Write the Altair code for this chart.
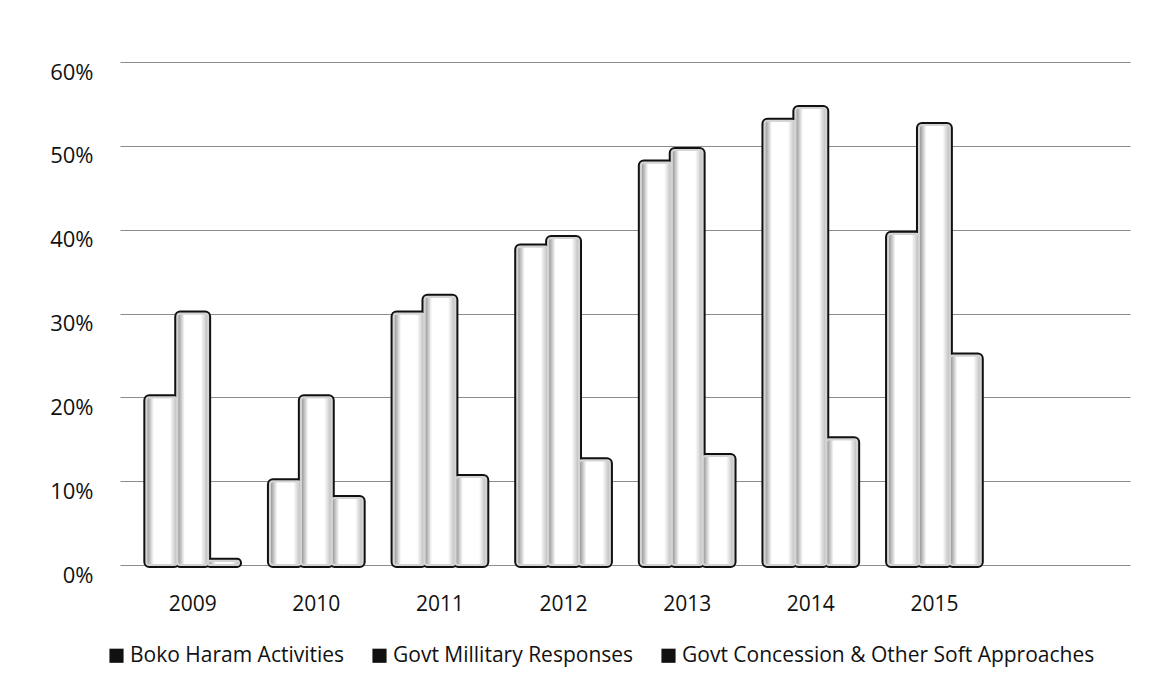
import altair as alt
import pandas as pd

years = ["2009", "2010", "2011", "2012", "2013", "2014", "2015"]
series = [
    "Boko Haram Activities",
    "Govt Millitary Responses",
    "Govt Concession & Other Soft Approaches",
]
boko_haram = [20, 10, 30, 38, 48, 53, 39.5]
military = [30, 20, 32, 39, 49.5, 54.5, 52.5]
concession = [0.5, 8, 10.5, 12.5, 13, 15, 25]
y_ticks = [0, 0.1, 0.2, 0.3, 0.4, 0.5, 0.6]

rows = []
for i, yr in enumerate(years):
    for name, vals in zip(series, [boko_haram, military, concession]):
        rows.append({"year": yr, "series": name, "share": vals[i] / 100})
df = pd.DataFrame(rows)

FONT = "Open Sans"
INK = "#111111"

x_enc = alt.X(
    "year:N",
    sort=years,
    scale=alt.Scale(paddingInner=0.25, paddingOuter=0.71, align=0.15),
    axis=alt.Axis(
        title=None, labelAngle=0, domain=False, ticks=False,
        labelPadding=28, labelFontSize=21, labelFont=FONT, labelColor=INK,
    ),
)
y_enc = alt.Y(
    "share:Q",
    scale=alt.Scale(domain=[0, 0.6], nice=False),
    axis=alt.Axis(
        title=None, format=".0%", values=y_ticks, domain=False, ticks=False,
        labelPadding=27, labelFontSize=22, labelFont=FONT, labelColor=INK,
        labelOffset=10, gridColor="#8c8c8c", gridWidth=1.2,
    ),
)
off_enc = alt.XOffset("series:N", sort=series, scale=alt.Scale(paddingInner=0, paddingOuter=0))

base = alt.Chart(df)

# dark silhouette around each group of columns
outline = base.mark_bar(
    fill="#ffffff", stroke="#111", strokeWidth=6, cornerRadius=3
).encode(x=x_enc, y=y_enc, xOffset=off_enc)

# shaded white faces drawn over the inner part of the outline
shade = alt.Gradient(
    gradient="linear", x1=0, x2=1, y1=0, y2=0,
    stops=[
        alt.GradientStop(color="#8a8a8a", offset=0),
        alt.GradientStop(color="#ffffff", offset=0.24),
        alt.GradientStop(color="#ffffff", offset=0.76),
        alt.GradientStop(color="#b8b8b8", offset=1),
    ],
)
faces = base.mark_bar(
    fill=shade, stroke="#d4d4d4", strokeWidth=2, cornerRadius=3
).encode(x=x_enc, y=y_enc, xOffset=off_enc)

# hidden points that carry the legend with black square keys
legend_keys = base.mark_square(opacity=0, size=1).encode(
    x=x_enc,
    y=alt.Y("share:Q", scale=alt.Scale(domain=[0, 0.6], nice=False)),
    color=alt.Color(
        "series:N",
        scale=alt.Scale(domain=series, range=[INK, INK, INK]),
        legend=alt.Legend(
            title=None, orient="none", direction="horizontal",
            legendX=-14, legendY=583,
            symbolType="square", symbolSize=200, symbolOpacity=1,
            symbolFillColor=INK, symbolStrokeWidth=0,
            labelFontSize=21, labelFont=FONT, labelColor=INK, labelLimit=0,
            columnPadding=24, labelOffset=3,
        ),
    ),
)

chart = (
    alt.layer(legend_keys, outline, faces)
    .properties(
        width=1010, height=503,
        autosize=alt.AutoSizeParams(type="none"),
        padding={"left": 120, "top": 62, "right": 44, "bottom": 123},
        background="white",
    )
    .configure_view(stroke=None)
)

chart.save("out.html", embed_options={"renderer": "svg", "actions": False})
